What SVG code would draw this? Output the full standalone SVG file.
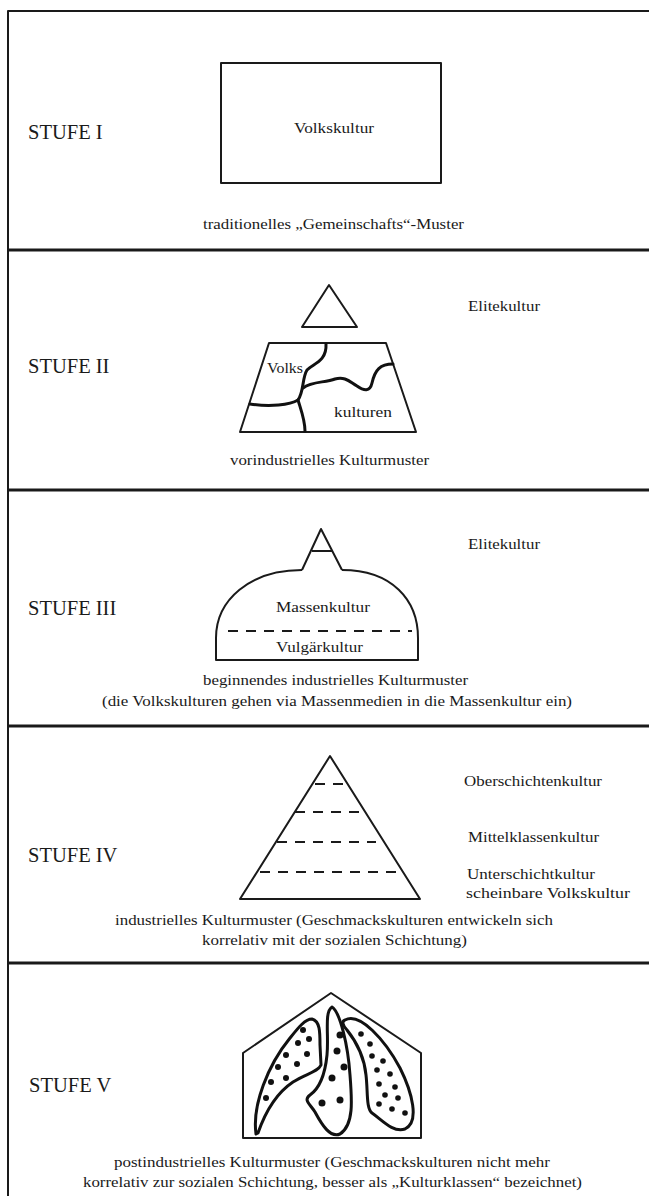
<svg xmlns="http://www.w3.org/2000/svg" width="649" height="1196" viewBox="0 0 649 1196">
<style>
  .ln{fill:none;stroke:#1a1a1a;stroke-width:2;stroke-linejoin:round;stroke-linecap:butt}
  .thick{fill:none;stroke:#1a1a1a;stroke-width:3}
  .crack{fill:none;stroke:#111;stroke-width:3;stroke-linecap:round;stroke-linejoin:round}
  .blob{fill:none;stroke:#111;stroke-width:3;stroke-linejoin:round}
  .dash{fill:none;stroke:#1a1a1a;stroke-width:2;stroke-dasharray:10 8}
  .stufe{font-family:"Liberation Serif","Times New Roman",serif;font-size:20.5px;fill:#1a1a1a}
  .t{font-family:"Liberation Serif","Times New Roman",serif;font-size:15px;fill:#1a1a1a}
  .dot{fill:#111}
</style>
<rect width="649" height="1196" fill="#fff"/>
<g id="frame">
  <path class="ln" d="M8,1196 V11 H649"/>
  <line class="thick" x1="8" y1="250" x2="649" y2="250"/>
  <line class="thick" x1="8" y1="490" x2="649" y2="490"/>
  <line class="thick" x1="8" y1="726" x2="649" y2="726"/>
  <line class="thick" x1="8" y1="963" x2="649" y2="963"/>
</g>
<g id="connectors"/>
<g id="stufe1">
  <text class="stufe" x="28" y="139">STUFE I</text>
  <rect class="ln" x="221" y="63" width="220" height="120"/>
  <text class="t" x="294" y="133" textLength="80" lengthAdjust="spacingAndGlyphs">Volkskultur</text>
  <text class="t" x="203" y="229" textLength="261" lengthAdjust="spacingAndGlyphs">traditionelles „Gemeinschafts“-Muster</text>
</g>
<g id="stufe2">
  <text class="stufe" x="28" y="373">STUFE II</text>
  <polygon class="ln" points="329,285 357,327 302,327"/>
  <polygon class="ln" points="269,343 386,343 416,432 240,432"/>
  <path class="crack" d="M326,344 C327,362 312,364 307,370 C302,378 304,392 298,400 C301,410 305,420 305,431"/>
  <path class="crack" d="M298,400 C290,405 270,407 250,404"/>
  <path class="crack" d="M303,388 C312,381 325,383 335,379 C345,376 350,382 357,386 C364,391 370,392 372,383 C375,370 380,364 393,364"/>
  <text class="t" x="267" y="373" textLength="36" lengthAdjust="spacingAndGlyphs">Volks</text>
  <text class="t" x="334" y="417" textLength="58" lengthAdjust="spacingAndGlyphs">kulturen</text>
  <text class="t" x="468" y="311" textLength="72" lengthAdjust="spacingAndGlyphs">Elitekultur</text>
  <text class="t" x="230" y="465" textLength="199" lengthAdjust="spacingAndGlyphs">vorindustrielles Kulturmuster</text>
</g>
<g id="stufe3">
  <text class="stufe" x="28" y="615">STUFE III</text>
  <path class="ln" d="M302,570 L321,529 L342,570 M312,551 H333"/>
  <path class="ln" d="M302,570 C250,570 216,600 216,638 L216,660 L418,660 L418,638 C418,600 392,570 342,570"/>
  <line class="dash" x1="228" y1="631" x2="412" y2="631"/>
  <text class="t" x="276" y="612" textLength="94" lengthAdjust="spacingAndGlyphs">Massenkultur</text>
  <text class="t" x="276" y="652" textLength="87" lengthAdjust="spacingAndGlyphs">Vulgärkultur</text>
  <text class="t" x="468" y="549" textLength="72" lengthAdjust="spacingAndGlyphs">Elitekultur</text>
  <text class="t" x="203" y="685" textLength="265" lengthAdjust="spacingAndGlyphs">beginnendes industrielles Kulturmuster</text>
  <text class="t" x="102" y="706" textLength="470" lengthAdjust="spacingAndGlyphs">(die Volkskulturen gehen via Massenmedien in die Massenkultur ein)</text>
</g>
<g id="stufe4">
  <text class="stufe" x="28" y="862">STUFE IV</text>
  <polygon class="ln" points="330,756 420,899 240,899"/>
  <line class="dash" x1="315" y1="784" x2="343" y2="784"/>
  <line class="dash" x1="295" y1="812" x2="362" y2="812"/>
  <line class="dash" x1="277" y1="842" x2="376" y2="842"/>
  <line class="dash" x1="260" y1="872" x2="396" y2="872"/>
  <text class="t" x="464" y="786" textLength="138" lengthAdjust="spacingAndGlyphs">Oberschichtenkultur</text>
  <text class="t" x="468" y="842" textLength="131" lengthAdjust="spacingAndGlyphs">Mittelklassenkultur</text>
  <text class="t" x="467" y="879" textLength="128" lengthAdjust="spacingAndGlyphs">Unterschichtkultur</text>
  <text class="t" x="466" y="898" textLength="164" lengthAdjust="spacingAndGlyphs">scheinbare Volkskultur</text>
  <text class="t" x="115" y="925" textLength="438" lengthAdjust="spacingAndGlyphs">industrielles Kulturmuster (Geschmackskulturen entwickeln sich</text>
  <text class="t" x="202" y="945" textLength="265" lengthAdjust="spacingAndGlyphs">korrelativ mit der sozialen Schichtung)</text>
</g>
<g id="stufe5">
  <text class="stufe" x="29" y="1092">STUFE V</text>
  <polygon class="ln" points="243,1138 243,1053 331,993 421,1053 421,1138"/>
  <path class="blob" d="M256,1134 C252,1105 268,1065 290,1038 C298,1028 305,1019 312,1019 C320,1021 320,1032 320,1045 L321,1065 C318,1072 305,1074 293,1082 C278,1092 266,1110 258,1133 Z"/>
  <path class="blob" d="M332,1007 C340,1012 348,1045 350,1075 C352,1100 354,1125 340,1134 C330,1138 322,1125 315,1112 C310,1104 303,1100 310,1095 C320,1088 325,1075 327,1055 C329,1035 324,1012 332,1007 Z"/>
  <path class="blob" d="M345,1020 C360,1012 385,1040 400,1068 C412,1092 420,1122 405,1129 C393,1133 382,1120 372,1113 C366,1108 368,1092 366,1075 C364,1055 355,1040 347,1030 C342,1025 342,1021 345,1020 Z"/>
  <g class="dot">
    <circle cx="303" cy="1030" r="3"/><circle cx="309" cy="1039" r="3"/><circle cx="298" cy="1043" r="3"/><circle cx="307" cy="1054" r="3"/><circle cx="286" cy="1055" r="3"/><circle cx="297" cy="1064" r="3"/><circle cx="278" cy="1067" r="3"/><circle cx="286" cy="1078" r="3"/><circle cx="271" cy="1082" r="3"/><circle cx="266" cy="1098" r="3"/>
    <circle cx="340" cy="1035" r="3.5"/><circle cx="337" cy="1051" r="3.5"/><circle cx="344" cy="1067" r="3.5"/><circle cx="332" cy="1078" r="3.5"/><circle cx="322" cy="1103" r="3.5"/><circle cx="340" cy="1100" r="3.5"/>
    <circle cx="361" cy="1034" r="2.8"/><circle cx="370" cy="1044" r="2.8"/><circle cx="372" cy="1056" r="2.8"/><circle cx="383" cy="1061" r="2.8"/><circle cx="377" cy="1070" r="2.8"/><circle cx="390" cy="1074" r="2.8"/><circle cx="379" cy="1084" r="2.8"/><circle cx="395" cy="1087" r="2.8"/><circle cx="385" cy="1095" r="2.8"/><circle cx="398" cy="1098" r="2.8"/><circle cx="379" cy="1104" r="2.8"/><circle cx="392" cy="1109" r="2.8"/><circle cx="405" cy="1113" r="2.8"/>
  </g>
  <text class="t" x="114" y="1167" textLength="436" lengthAdjust="spacingAndGlyphs">postindustrielles Kulturmuster (Geschmackskulturen nicht mehr</text>
  <text class="t" x="83" y="1187" textLength="499" lengthAdjust="spacingAndGlyphs">korrelativ zur sozialen Schichtung, besser als „Kulturklassen“ bezeichnet)</text>
</g>
</svg>
